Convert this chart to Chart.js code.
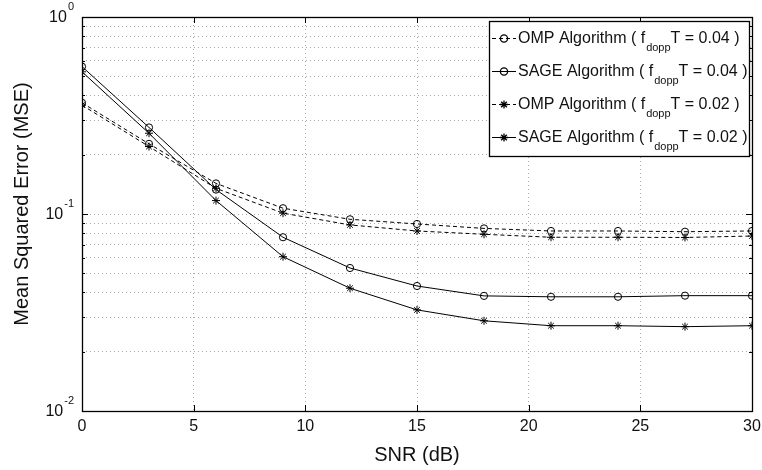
<!DOCTYPE html>
<html>
<head>
<meta charset="utf-8">
<script src="https://cdn.jsdelivr.net/npm/chart.js@4"></script>
<style>
  html, body { margin: 0; padding: 0; background: #fff; }
  #wrap { width: 762px; height: 470px; position: relative; }
</style>
</head>
<body>
<div id="wrap"><canvas id="mseChart"></canvas></div>
<script>
// SNR points (dB)
const snr = [0, 3, 6, 9, 12, 15, 18, 21, 24, 27, 30];
// MSE curves
const ompT004 = [0.367, 0.227, 0.143, 0.107, 0.094, 0.089, 0.0845, 0.082, 0.082, 0.0813, 0.082];
const sageT004 = [0.56, 0.275, 0.133, 0.0762, 0.0532, 0.0431, 0.0384, 0.038, 0.038, 0.0385, 0.0385];
const ompT002 = [0.357, 0.22, 0.135, 0.101, 0.088, 0.082, 0.0789, 0.0762, 0.0762, 0.076, 0.0773];
const sageT002 = [0.527, 0.257, 0.117, 0.0607, 0.042, 0.0326, 0.0287, 0.0271, 0.0271, 0.0268, 0.0271];

const legendNames = ["OMP Algorithm", "SAGE Algorithm", "OMP Algorithm", "SAGE Algorithm"];
const legendFdT = ["0.04", "0.04", "0.02", "0.02"];

const xTicks = [0, 5, 10, 15, 20, 25, 30];
const yDecades = [0.01, 0.1, 1];
const yDecadeExp = ["-2", "-1", "0"];
// log grid: 1..9 times each decade
const yGrid = [0.01, 0.02, 0.03, 0.04, 0.05, 0.06, 0.07, 0.08, 0.09,
               0.1, 0.2, 0.3, 0.4, 0.5, 0.6, 0.7, 0.8, 0.9, 1];

const FONT = "'Liberation Sans', Arial, Helvetica, sans-serif";

function toPoints(ys) {
    return snr.map((x, i) => ({ x: x, y: ys[i] }));
}

function series(label, ys, style, dashed) {
    return {
        label: label,
        data: toPoints(ys),
        borderColor: "#000",
        backgroundColor: "rgba(0,0,0,0)",
        borderWidth: 1,
        borderDash: dashed ? [4, 3] : [],
        pointStyle: style,
        pointRadius: style === "circle" ? 3.6 : 4,
        pointBorderColor: "#000",
        pointBackgroundColor: "rgba(0,0,0,0)",
        pointBorderWidth: 1,
        tension: 0
    };
}

// frame, inward ticks, tick labels, axis titles and legend (MATLAB look)
const matlabFrame = {
    id: "matlabFrame",
    afterDraw(chart) {
        const ctx = chart.ctx;
        const a = chart.chartArea;
        const xs = chart.scales.x;
        const ys = chart.scales.y;
        ctx.save();

        // ticks inside the box
        ctx.strokeStyle = "#000";
        ctx.lineWidth = 1;
        ctx.beginPath();
        xTicks.forEach(v => {
            const px = Math.round(xs.getPixelForValue(v)) + 0.5;
            ctx.moveTo(px, a.bottom); ctx.lineTo(px, a.bottom - 6);
            ctx.moveTo(px, a.top); ctx.lineTo(px, a.top + 6);
        });
        yGrid.forEach(v => {
            const py = Math.round(ys.getPixelForValue(v)) + 0.5;
            const len = yDecades.includes(v) ? 6 : 3;
            ctx.moveTo(a.left, py); ctx.lineTo(a.left + len, py);
            ctx.moveTo(a.right, py); ctx.lineTo(a.right - len, py);
        });
        ctx.stroke();

        // box
        ctx.lineWidth = 1.3;
        ctx.strokeRect(Math.round(a.left) + 0.5, Math.round(a.top) + 0.5,
            Math.round(a.right - a.left), Math.round(a.bottom - a.top));

        // x tick labels
        ctx.fillStyle = "#111";
        ctx.font = "16px " + FONT;
        ctx.textAlign = "center";
        ctx.textBaseline = "middle";
        xTicks.forEach(v => {
            ctx.fillText(String(v), xs.getPixelForValue(v), a.bottom + 16);
        });

        // y tick labels 10^n
        yDecades.forEach((v, i) => {
            const py = ys.getPixelForValue(v);
            ctx.font = "16px " + FONT;
            const w10 = ctx.measureText("10").width;
            ctx.font = "11px " + FONT;
            const wExp = ctx.measureText(yDecadeExp[i]).width;
            const x0 = a.left - 9 - w10 - wExp;
            ctx.textAlign = "left";
            ctx.textBaseline = "middle";
            ctx.font = "16px " + FONT;
            ctx.fillText("10", x0, py + 1);
            ctx.font = "11px " + FONT;
            ctx.fillText(yDecadeExp[i], x0 + w10 + 1, py - 10);
        });

        // axis titles
        ctx.font = "20px " + FONT;
        ctx.textAlign = "center";
        ctx.textBaseline = "middle";
        ctx.fillText("SNR (dB)", (a.left + a.right) / 2, a.bottom + 44);
        ctx.save();
        ctx.translate(22, 204);
        ctx.rotate(-Math.PI / 2);
        ctx.fillText("Mean Squared Error (MSE)", 0, 0);
        ctx.restore();

        // legend
        const lx = 489.5, ly = 21.5, lw = 260, lh = 135;
        ctx.fillStyle = "#fff";
        ctx.fillRect(lx, ly, lw, lh);
        ctx.lineWidth = 1.3;
        ctx.strokeStyle = "#000";
        ctx.strokeRect(lx, ly, lw, lh);
        const rows = [38, 71, 104, 137];
        chart.data.datasets.forEach((ds, i) => {
            const ry = rows[i] + 0.5;
            ctx.save();
            ctx.lineWidth = 1;
            ctx.setLineDash(ds.borderDash);
            ctx.beginPath();
            ctx.moveTo(492, ry); ctx.lineTo(516, ry);
            ctx.stroke();
            ctx.restore();
            ctx.fillStyle = "rgba(0,0,0,0)";
            ctx.strokeStyle = "#000";
            Chart.helpers.drawPoint(ctx, {
                pointStyle: ds.pointStyle,
                radius: ds.pointRadius,
                borderWidth: 1,
                rotation: 0
            }, 504, ry);
            // text with subscript
            ctx.fillStyle = "#111";
            ctx.textAlign = "left";
            ctx.textBaseline = "middle";
            let tx = 518;
            ctx.font = "16px " + FONT;
            const t1 = legendNames[i] + " ( f";
            ctx.fillText(t1, tx, ry);
            tx += ctx.measureText(t1).width + 1;
            ctx.font = "11px " + FONT;
            ctx.fillText("dopp", tx, ry + 9);
            tx += ctx.measureText("dopp").width;
            ctx.font = "16px " + FONT;
            ctx.fillText("T = " + legendFdT[i] + " )", tx, ry);
        });

        ctx.restore();
    }
};

const ctx = document.getElementById("mseChart").getContext("2d");
const mseChart = new Chart(ctx, {
    type: "line",
    data: {
        datasets: [
            series("OMP Algorithm (fdopp T = 0.04)", ompT004, "circle", true),
            series("SAGE Algorithm (fdopp T = 0.04)", sageT004, "circle", false),
            series("OMP Algorithm (fdopp T = 0.02)", ompT002, "star", true),
            series("SAGE Algorithm (fdopp T = 0.02)", sageT002, "star", false)
        ]
    },
    options: {
        responsive: true,
        maintainAspectRatio: false,
        animation: false,
        layout: { padding: { left: 82, top: 17, right: 10, bottom: 59 } },
        plugins: {
            legend: { display: false },
            tooltip: { enabled: false }
        },
        scales: {
            x: {
                type: "linear",
                min: 0,
                max: 30,
                afterBuildTicks: scale => { scale.ticks = xTicks.map(v => ({ value: v })); },
                ticks: { display: false },
                border: { display: false, dash: [1, 3] },
                grid: { color: "#aaa", lineWidth: 1, drawTicks: false }
            },
            y: {
                type: "logarithmic",
                min: 0.01,
                max: 1,
                afterBuildTicks: scale => { scale.ticks = yGrid.map(v => ({ value: v })); },
                ticks: { display: false },
                border: { display: false, dash: [1, 3] },
                grid: { color: "#aaa", lineWidth: 1, drawTicks: false }
            }
        }
    },
    plugins: [matlabFrame]
});
</script>
</body>
</html>
